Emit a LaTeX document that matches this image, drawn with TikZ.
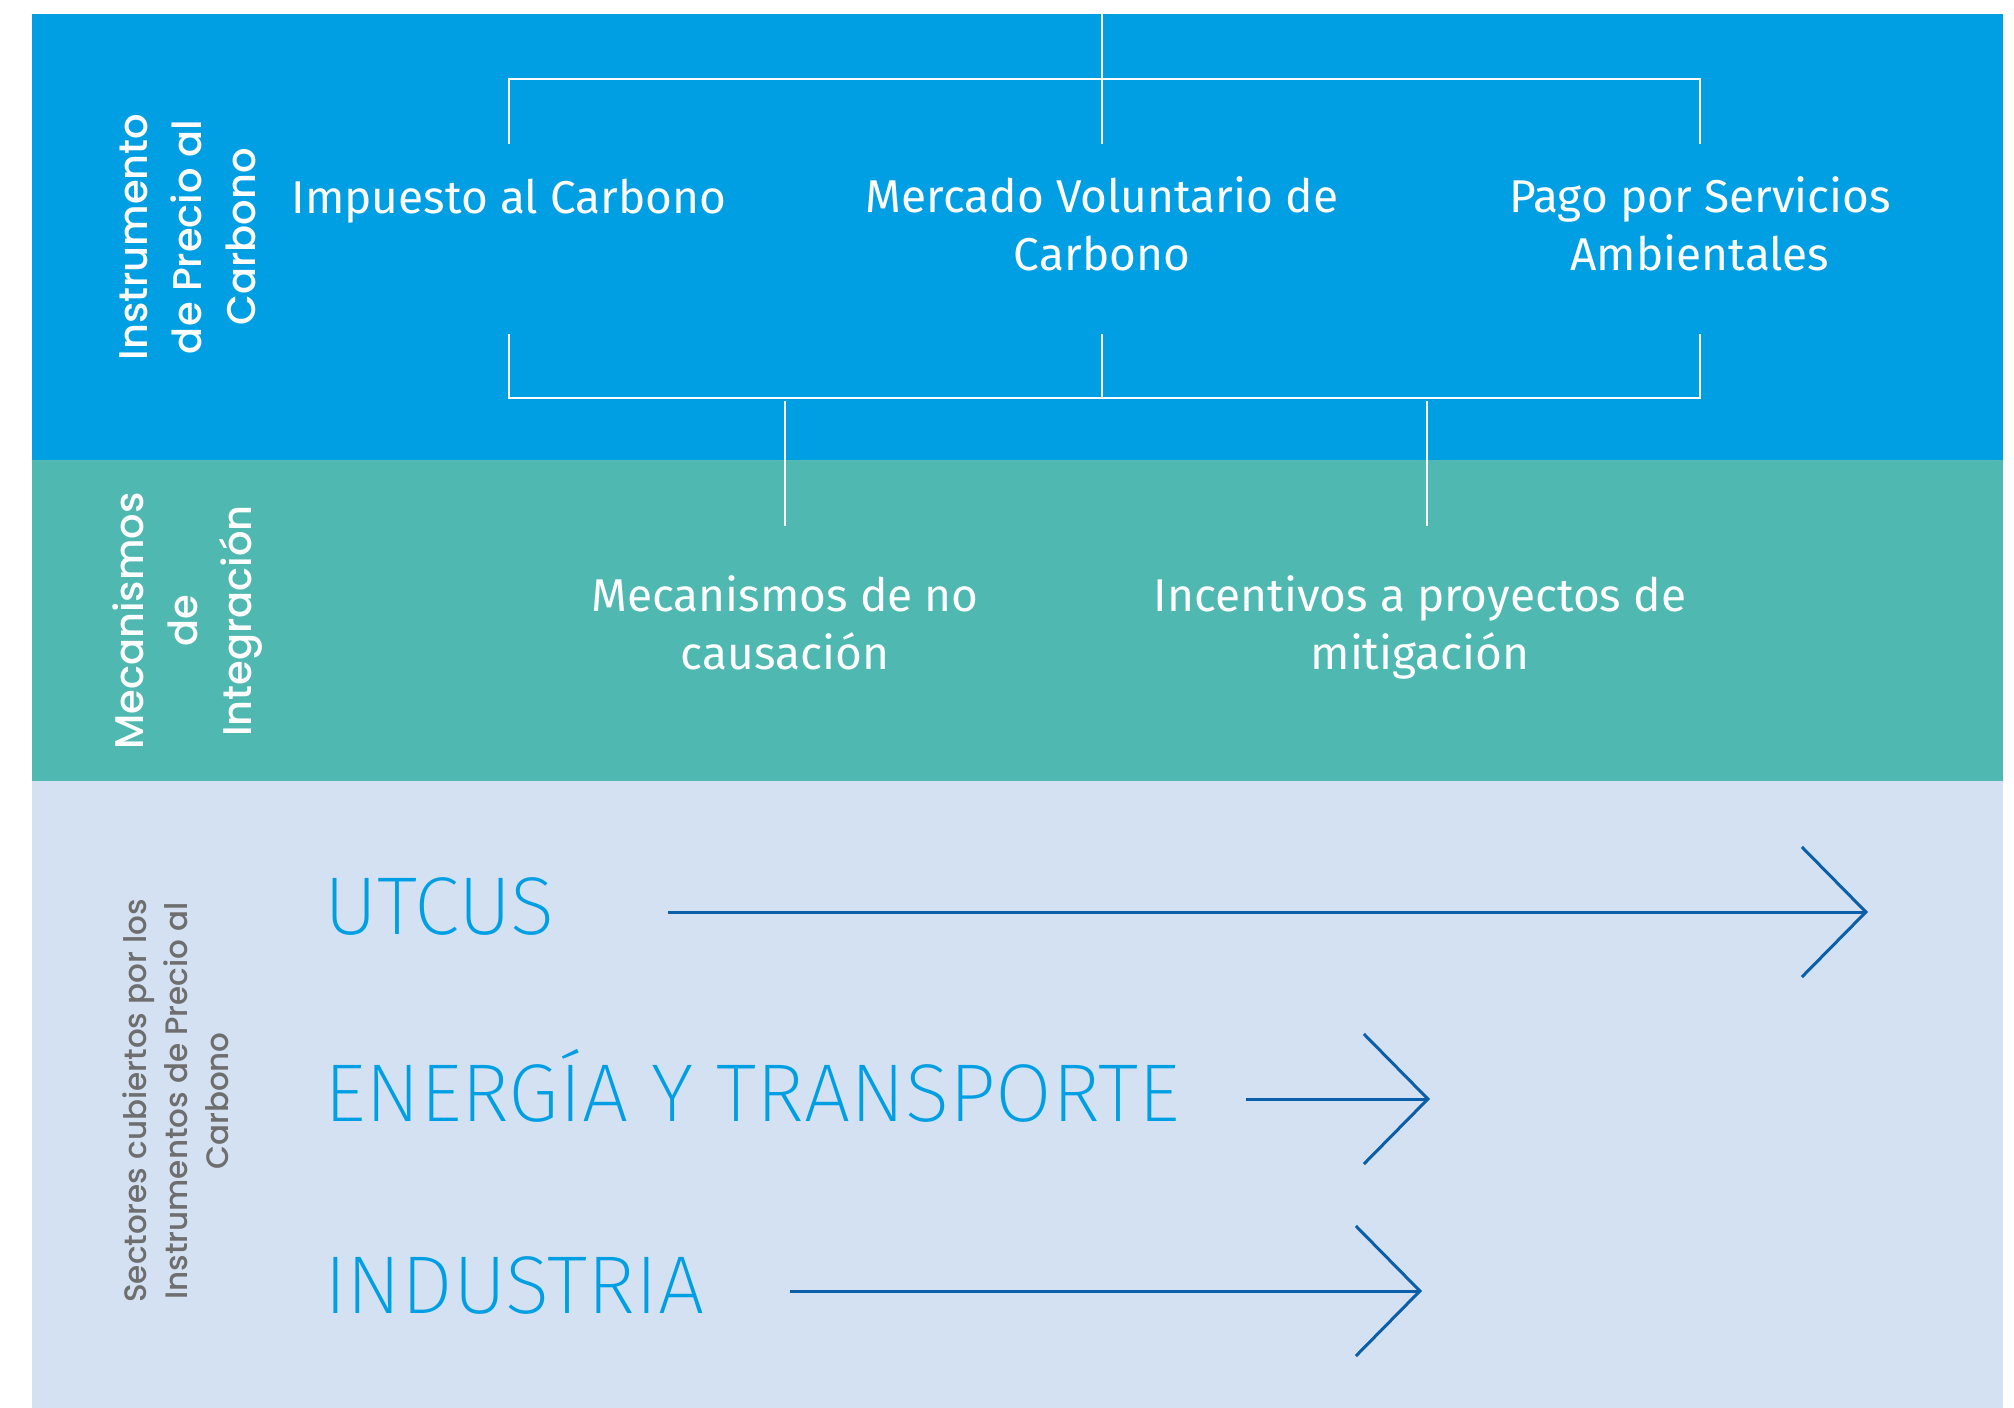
\documentclass[tikz,border=0pt]{standalone}
\usepackage{fontspec}
\setmainfont{Fira Sans}
\newfontfamily\labelfont{Poppins Medium}
\newfontfamily\lightfont{Fira Sans ExtraLight}
\usetikzlibrary{arrows.meta, positioning, calc}

\definecolor{cpblue}{HTML}{009FE3}
\definecolor{cpteal}{HTML}{4FB8B0}
\definecolor{cplight}{HTML}{D4E1F2}
\definecolor{cpdark}{HTML}{0B5EA8}
\definecolor{cpgrey}{HTML}{6E6E6E}

\begin{document}
\begin{tikzpicture}[
  x=0.5pt, y=-0.5pt,
  every node/.style={inner sep=0pt, outer sep=0pt},
  item/.style={text=white, font=\fontsize{23}{29}\selectfont, align=center},
  rowlabel/.style={text=white, font=\labelfont\fontsize{20}{27}\selectfont, align=center, rotate=90},
  sector/.style={text=cpblue, font=\lightfont\fontsize{41}{48}\selectfont, anchor=base west},
  link/.style={white, line width=1.2pt},
  sectorarrow/.style={cpdark, line width=1.5pt, -{Straight Barb[length=32pt, width=65pt]}},
]
  \useasboundingbox (0,0) rectangle (2014,1408);

  % bands
  \fill[cpblue]  (32,14)  rectangle (2003,460);
  \fill[cpteal]  (32,460) rectangle (2003,781);
  \fill[cplight] (32,781) rectangle (2003,1408);

  % row labels
  \node[rowlabel] (lblprecio) at (188,237) {Instrumento\\de Precio al\\Carbono};
  \node[rowlabel] (lblinteg) at (188,621) {Mecanismos\\de\\Integración};
  \node[rowlabel, text=cpgrey, font=\labelfont\fontsize{15.5}{20.5}\selectfont]
    (lblsector) at (176,1101) {Sectores cubiertos por los\\Instrumentos de Precio al\\Carbono};

  % instruments
  \node[item, anchor=base] (impuesto) at (509,213) {Impuesto al Carbono};
  \node[item] (mercado) at (1102,224) {Mercado Voluntario de\\Carbono};
  \node[item] (pago) at (1700,224) {Pago por Servicios\\Ambientales};

  % integration mechanisms
  \node[item] (nocausa) at (785,623) {Mecanismos de no\\causación};
  \node[item] (incentivo) at (1420,627) {Incentivos a proyectos de\\mitigación};

  % brackets
  \coordinate (toptop) at (1102,14);
  \coordinate (topl) at (509,79);
  \coordinate (topr) at (1700,79);
  \coordinate (botl) at (509,398);
  \coordinate (botr) at (1700,398);
  \draw[link] (toptop) -- (1102,144);
  \draw[link] (509,144) -- (topl) -- (topr) -- (1700,144);
  \draw[link] (509,334) -- (botl) -- (botr) -- (1700,334);
  \draw[link] (1102,334) -- (1102,398);
  \draw[link] (785,401) -- (785,526);
  \draw[link] (1427,401) -- (1427,526);

  % sectors
  \node[sector] (utcus) at (324,934) {UTCUS};
  \node[sector] (energia) at (324,1121) {ENERGÍA Y TRANSPORTE};
  \node[sector] (industria) at (324,1313) {INDUSTRIA};

  \coordinate (utcus-s) at (668,912);
  \coordinate (utcus-e) at (1868,912);
  \coordinate (energia-s) at (1246,1099);
  \coordinate (energia-e) at (1430,1099);
  \coordinate (industria-s) at (790,1291);
  \coordinate (industria-e) at (1422,1291);
  \draw[sectorarrow] (utcus-s) -- (utcus-e);
  \draw[sectorarrow] (energia-s) -- (energia-e);
  \draw[sectorarrow] (industria-s) -- (industria-e);
\end{tikzpicture}
\end{document}
